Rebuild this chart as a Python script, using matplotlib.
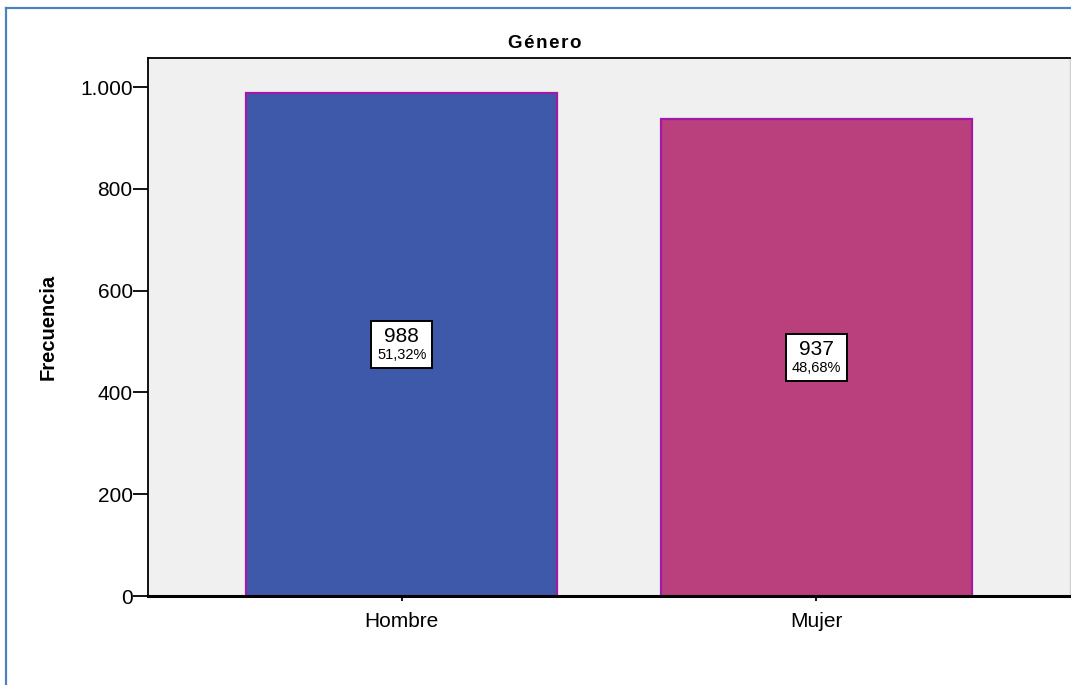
import matplotlib
matplotlib.use("Agg")
import matplotlib.pyplot as plt
from matplotlib.ticker import FuncFormatter
from matplotlib.offsetbox import TextArea, VPacker, AnnotationBbox
from matplotlib.lines import Line2D

plt.rcParams['font.family'] = ['Liberation Sans', 'DejaVu Sans']

categories = ["Hombre", "Mujer"]
counts = [988, 937]
percents = ["51,32%", "48,68%"]
yticks = [0, 200, 400, 600, 800, 1000]
bar_colors = ["#3F59AA", "#BA407D"]

W, H = 1071, 685
fig = plt.figure(figsize=(W / 100, H / 100), dpi=100)
fig.patch.set_facecolor("white")

# outer frame (left and top edges visible)
fig.add_artist(Line2D([6 / W, 6 / W], [0, 1 - 8 / H], transform=fig.transFigure,
                      color="#4F81BD", lw=1.6))
fig.add_artist(Line2D([6 / W, 1], [1 - 8 / H, 1 - 8 / H], transform=fig.transFigure,
                      color="#4F81BD", lw=1.6))

ax = fig.add_axes([148 / W, 1 - 596 / H, (1070 - 148) / W, (596 - 58) / H])
ax.set_facecolor("#F0F0F0")

x = list(range(len(categories)))
ax.bar(x, counts, width=0.75, color=bar_colors, edgecolor="#A01AA6", linewidth=1.6,
       zorder=2)

ax.set_xlim(-0.612, 1.612)
ax.set_ylim(0, 1057)
ax.set_yticks(yticks)
ax.yaxis.set_major_formatter(FuncFormatter(lambda v, p: f"{int(v):,}".replace(",", ".")))
ax.set_xticks(x)
ax.set_xticklabels(categories)

ax.tick_params(axis="y", length=11, width=1.3, pad=0, labelsize=15, direction="out")
ax.tick_params(axis="x", length=3.8, width=1.3, pad=8, labelsize=15, direction="out")

for side in ("top", "left"):
    ax.spines[side].set_linewidth(1.3)
    ax.spines[side].set_color("black")
ax.spines["bottom"].set_linewidth(2.2)
ax.spines["bottom"].set_color("black")
ax.spines["right"].set_linewidth(1.0)
ax.spines["right"].set_color("#D0D0D0")

# letter-spaced bold title
fig.text(545 / W, 1 - 43 / H, "\u200a".join("Género"),
         fontsize=13.5, fontweight="bold", ha="center", va="center")
ax.set_ylabel("Frecuencia", fontsize=14.5, fontweight="bold", labelpad=16)

# value / percentage boxes at mid-height of each bar
for xi, c, pct in zip(x, counts, percents):
    t1 = TextArea(str(c), textprops=dict(fontsize=15, color="black"))
    t2 = TextArea(pct, textprops=dict(fontsize=10.5, color="black"))
    pack = VPacker(children=[t1, t2], align="center", pad=0, sep=2)
    ab = AnnotationBbox(pack, (xi, c / 2), xycoords="data", frameon=True,
                        pad=0.4, box_alignment=(0.5, 0.5),
                        bboxprops=dict(edgecolor="black", facecolor="white", lw=1.4),
                        zorder=3)
    ax.add_artist(ab)

fig.savefig("out.png", dpi=100)
